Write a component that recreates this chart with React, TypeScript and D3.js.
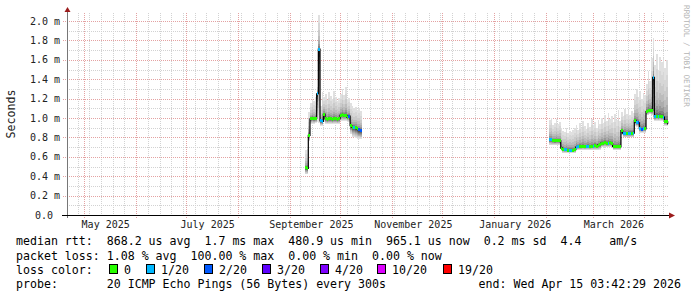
import React from "react";
import * as d3 from "d3";

// ---------- data ----------
const END = Date.UTC(2026, 3, 15, 3, 42, 29);
const DAY = 86400000;
const SPAN_DAYS = 359.5;

const yTickValues = [0, 0.2, 0.4, 0.6, 0.8, 1.0, 1.2, 1.4, 1.6, 1.8, 2.0];
const yTickLabels = ["0.0", "0.2 m", "0.4 m", "0.6 m", "0.8 m", "1.0 m", "1.2 m", "1.4 m", "1.6 m", "1.8 m", "2.0 m"];
const monthLabelDates = ["2025-05-01", "2025-07-01", "2025-09-01", "2025-11-01", "2026-01-01", "2026-03-01"];
const monthLabels = ["May 2025", "July 2025", "September 2025", "November 2025", "January 2026", "March 2026"];

// segment 1: daily samples from 2025-09-10
const seg1Start = "2025-09-10";
const seg1Median = [0.49, 0.48, 0.82, 0.99, 1.0, 0.99, 0.995, 1.25, 1.71, 0.97, 0.965, 1.04, 0.99, 0.985, 0.99, 0.99, 0.985, 0.99, 0.99, 0.985, 0.99, 1.03, 1.035, 1.03, 1.03, 1.01, 1.02, 0.92, 0.905, 0.905, 0.9, 0.89, 0.878, 0.875];
const seg1Loss = [0, 0, 0, 0, 0, 0, 0, 1, 1, 1, 1, 0, 0, 0, 0, 0, 0, 0, 0, 0, 0, 0, 0, 0, 0, 0, 2, 0, 0, 1, 0, 0, 2, 2];
const seg1Min = [0.42, 0.42, 0.76, 0.94, 0.94, 0.94, 0.95, 0.96, 0.95, 0.92, 0.92, 0.96, 0.94, 0.94, 0.94, 0.94, 0.94, 0.94, 0.94, 0.94, 0.94, 0.97, 0.97, 0.97, 0.97, 0.96, 0.96, 0.84, 0.8, 0.8, 0.79, 0.78, 0.78, 0.78];
const seg1Max = [0.67, 0.68, 1.06, 1.15, 1.2, 1.18, 1.22, 1.32, 2.06, 1.12, 1.27, 1.22, 1.25, 1.19, 1.27, 1.23, 1.2, 1.28, 1.22, 1.18, 1.21, 1.25, 1.3, 1.24, 1.32, 1.2, 1.21, 1.15, 1.12, 1.1, 1.11, 1.08, 1.1, 1.07];

// segment 2: daily samples from 2026-02-03
const seg2Start = "2026-02-03";
const seg2Median = [
  0.78, 0.775, 0.767, 0.765, 0.767, 0.767, 0.765, 0.69, 0.68, 0.675, 0.675, 0.67, 0.67, 0.668, 0.67, 0.675, 0.7, 0.705, 0.705, 0.705, 0.71, 0.705, 0.71, 0.71, 0.705, 0.71,
  0.71, 0.715, 0.71, 0.72, 0.725, 0.74, 0.74, 0.745, 0.74, 0.74, 0.745, 0.735, 0.705, 0.705, 0.705, 0.705, 0.705, 0.87, 0.845, 0.845, 0.84, 0.845, 0.845, 0.84, 0.845, 0.975, 0.955, 0.95, 0.89, 0.885, 0.89,
  0.888, 1.067, 1.077, 1.08, 1.075, 1.42, 1.015, 1.02, 1.015, 1.02, 1.015, 1.01, 0.965, 0.96, 0.94,
];
const seg2Loss = [
  1, 1, 0, 0, 0, 0, 0, 0, 0, 1, 1, 0, 1, 1, 0, 0, 1, 1, 0, 0, 0, 0, 1, 1, 0, 0,
  1, 0, 0, 0, 0, 0, 0, 0, 0, 1, 0, 0, 0, 0, 0, 0, 0, 0, 1, 1, 0, 1, 1, 0, 1, 0, 1, 2, 1, 2, 1,
  0, 0, 0, 0, 0, 1, 1, 0, 1, 0, 0, 1, 0, 0, 0,
];
const seg2Min = [
  0.72, 0.72, 0.72, 0.72, 0.72, 0.72, 0.72, 0.66, 0.64, 0.64, 0.64, 0.64, 0.64, 0.64, 0.64, 0.64, 0.67, 0.67, 0.67, 0.67, 0.67, 0.67, 0.67, 0.67, 0.67, 0.67,
  0.67, 0.67, 0.67, 0.67, 0.67, 0.7, 0.7, 0.7, 0.7, 0.7, 0.7, 0.7, 0.67, 0.67, 0.67, 0.67, 0.67, 0.82, 0.8, 0.8, 0.8, 0.8, 0.8, 0.8, 0.8, 0.92, 0.91, 0.91, 0.85, 0.85, 0.85,
  0.85, 1.03, 1.03, 1.04, 1.03, 1.0, 0.97, 0.97, 0.97, 0.97, 0.97, 0.97, 0.92, 0.92, 0.9,
];
const seg2Max = [
  0.98, 1.0, 0.93, 0.95, 0.99, 0.94, 0.96, 0.9, 0.87, 0.86, 0.9, 0.85, 0.87, 0.86, 0.88, 0.9, 0.93, 0.88, 0.95, 0.9, 0.97, 0.92, 0.89, 0.95, 0.91, 0.99,
  0.93, 0.96, 0.9, 0.98, 0.94, 1.0, 0.95, 1.03, 0.97, 1.05, 0.99, 1.02, 0.96, 1.04, 0.98, 1.08, 0.97, 1.06, 1.02, 1.09, 1.04, 1.08, 1.03, 1.07, 1.05, 1.25, 1.3, 1.22, 1.28, 1.2, 1.26,
  1.24, 1.35, 1.48, 1.38, 1.62, 1.82, 1.55, 1.66, 1.5, 1.63, 1.58, 1.62, 1.52, 1.6, 1.5,
];

const lossSteps = [0, 1, 2, 3, 4, 10, 19];
const lossColors = ["#26ff00", "#00b8ff", "#0059ff", "#5e00ff", "#7e00ff", "#dd00ff", "#ff0000"];
const lossLabels = ["0", "1/20", "2/20", "3/20", "4/20", "10/20", "19/20"];

const legendLine1 = "median rtt:  868.2 us avg  1.7 ms max  480.9 us min  965.1 us now  0.2 ms sd  4.4    am/s";
const legendLine2 = "packet loss: 1.08 % avg  100.00 % max  0.00 % min  0.00 % now";
const legendLine3 = "loss color:";
const legendLine4 = "probe:       20 ICMP Echo Pings (56 Bytes) every 300s";
const legendEnd = "end: Wed Apr 15 03:42:29 2026";

// ---------- layout ----------
const W = 697;
const H = 297;
const X0 = 67;
const X1 = 668;
const Y0 = 215;
const YT = 13;
const MONO = "'DejaVu Sans Mono', monospace";

type Pt = { t: number; t1: number; median: number; loss: number; min: number; max: number };

function buildSeg(start: string, med: number[], loss: number[], mn: number[], mx: number[]): Pt[] {
  const t0 = Date.parse(start + "T00:00:00Z");
  return med.map((m, i) => ({
    t: t0 + i * DAY,
    t1: Math.min(t0 + (i + 1) * DAY, END),
    median: m,
    loss: loss[i],
    min: mn[i],
    max: mx[i],
  }));
}

function lossColor(l: number) {
  let c = lossColors[0];
  for (let i = 0; i < lossSteps.length; i++) if (l >= lossSteps[i]) c = lossColors[i];
  return c;
}

const LAYERS = 10;
const layerGrays = ["#e0e0e0", "#d6d6d6", "#cacaca", "#bcbcbc", "#acacac", "#989898", "#828282", "#6a6a6a", "#525252", "#3a3a3a"];

export default function App() {
  const x = d3.scaleUtc().domain([new Date(END - SPAN_DAYS * DAY), new Date(END)]).range([X0, X1]);
  const y = d3.scaleLinear().domain([0, (Y0 - YT) / 97]).range([Y0, YT]);

  const segs = [
    buildSeg(seg1Start, seg1Median, seg1Loss, seg1Min, seg1Max),
    buildSeg(seg2Start, seg2Median, seg2Loss, seg2Min, seg2Max),
  ];

  const start = new Date(END - SPAN_DAYS * DAY);
  const weeks = d3.utcSunday.range(start, new Date(END));
  const months = d3.utcMonth.range(start, new Date(END));
  const minorY = d3.range(1, 21).map((i) => i / 10);

  const smokeLayers = segs.flatMap((pts, si) => {
    const ext = pts.concat([{ ...pts[pts.length - 1], t: pts[pts.length - 1].t1 }]);
    return d3.range(LAYERS).map((k) => {
      const f = (LAYERS - k) / LAYERS;
      const area = d3
        .area<Pt>()
        .x((d) => x(new Date(d.t)))
        .y0((d) => y(d.median - (d.median - d.min) * f))
        .y1((d) => y(d.median + (d.max - d.median) * Math.pow(f, 2.6)))
        .curve(d3.curveStepAfter);
      return <path key={`s${si}-${k}`} d={area(ext) || ""} fill={layerGrays[k]} stroke="none" />;
    });
  });

  const medLines = segs.map((pts, si) => {
    const ext = pts.concat([{ ...pts[pts.length - 1], t: pts[pts.length - 1].t1 }]);
    const line = d3
      .line<Pt>()
      .x((d) => x(new Date(d.t)))
      .y((d) => y(d.median))
      .curve(d3.curveStepAfter);
    return <path key={`m${si}`} d={line(ext) || ""} fill="none" stroke="#000" strokeWidth={1.2} />;
  });

  const lossMarks = segs.flatMap((pts, si) =>
    pts.map((d, i) => (
      <line
        key={`l${si}-${i}`}
        x1={x(new Date(d.t))}
        x2={x(new Date(d.t1))}
        y1={y(d.median)}
        y2={y(d.median)}
        stroke={lossColor(d.loss)}
        strokeWidth={3}
      />
    ))
  );

  const boxXs = [109, 146, 204, 262, 320, 377, 443];

  return (
    <svg
      width={W}
      height={H}
      style={{ position: "absolute", left: 0, top: 0, background: "#fff" }}
      xmlns="http://www.w3.org/2000/svg"
    >
      <rect x={0} y={0} width={W} height={H} fill="#fff" />
      {/* grid */}
      <g shapeRendering="crispEdges">
        {minorY.map((v) => (
          <line key={`gy${v}`} x1={X0} x2={X1} y1={Math.round(y(v)) + 0.5} y2={Math.round(y(v)) + 0.5} stroke="#d2d2d2" strokeDasharray="1,1" />
        ))}
        {weeks.map((w) => (
          <line key={`gx${+w}`} x1={Math.round(x(w)) + 0.5} x2={Math.round(x(w)) + 0.5} y1={YT} y2={Y0} stroke="#d2d2d2" strokeDasharray="1,1" />
        ))}
        {yTickValues.slice(1).map((v) => (
          <line key={`my${v}`} x1={63} x2={X1} y1={Math.round(y(v)) + 0.5} y2={Math.round(y(v)) + 0.5} stroke="#e4a2a2" strokeDasharray="1,1" />
        ))}
        {months.map((m) => (
          <line key={`mx${+m}`} x1={Math.round(x(m)) + 0.5} x2={Math.round(x(m)) + 0.5} y1={YT} y2={Y0 + 3} stroke="#e4a2a2" strokeDasharray="1,1" />
        ))}
      </g>
      {/* smoke */}
      <g shapeRendering="crispEdges">{smokeLayers}</g>
      {medLines}
      <g shapeRendering="crispEdges">{lossMarks}</g>
      {/* axes */}
      <line x1={X0 + 0.5} x2={X0 + 0.5} y1={11} y2={Y0 + 3} stroke="#777" shapeRendering="crispEdges" />
      <line x1={62} x2={670} y1={Y0 + 0.5} y2={Y0 + 0.5} stroke="#000" shapeRendering="crispEdges" />
      <path d={`M${X0 + 0.5},7 L${X0 + 3.5},12 L${X0 - 2.5},12 Z`} fill="#9b1c1c" />
      <path d={`M675,${Y0 + 0.5} L669,${Y0 - 2.5} L669,${Y0 + 3.5} Z`} fill="#9b1c1c" />
      {/* y tick labels */}
      {yTickValues.map((v, i) => (
        <text
          key={`yt${i}`}
          x={v === 0 ? 53 : 60}
          y={y(v) + 3.6}
          textAnchor="end"
          fontFamily={MONO}
          fontSize={10}
          fill="#222"
        >
          {yTickLabels[i]}
        </text>
      ))}
      {/* x labels */}
      {monthLabelDates.map((s, i) => (
        <text
          key={`xl${i}`}
          x={x(new Date(Date.parse(s + "T00:00:00Z") + 12.8 * DAY))}
          y={228}
          textAnchor="middle"
          fontFamily={MONO}
          fontSize={10}
          fill="#222"
        >
          {monthLabels[i]}
        </text>
      ))}
      {/* y title */}
      <text
        transform="translate(15,114) rotate(-90)"
        textAnchor="middle"
        fontFamily={MONO}
        fontSize={11.6}
        fill="#222"
      >
        Seconds
      </text>
      {/* watermark */}
      <text transform="translate(684,5) rotate(90)" fontFamily={MONO} fontSize={7.7} fill="#b4b4b4">
        RRDTOOL / TOBI OETIKER
      </text>
      {/* legend */}
      <g fontFamily={MONO} fontSize={11.6} fill="#000" style={{ whiteSpace: "pre" }}>
        <text x={16} y={245} xmlSpace="preserve">{legendLine1}</text>
        <text x={16} y={259.5} xmlSpace="preserve">{legendLine2}</text>
        <text x={16} y={273.5} xmlSpace="preserve">{legendLine3}</text>
        {lossLabels.map((l, i) => (
          <g key={`lg${i}`}>
            <rect x={boxXs[i] + 0.5} y={264.5} width={8} height={9} fill={lossColors[i]} stroke="#000" strokeWidth={1} shapeRendering="crispEdges" />
            <text x={boxXs[i] + 15} y={273.5}>{l}</text>
          </g>
        ))}
        <text x={16} y={288} xmlSpace="preserve">{legendLine4}</text>
        <text x={681} y={288} textAnchor="end" xmlSpace="preserve">{legendEnd}</text>
      </g>
    </svg>
  );
}
